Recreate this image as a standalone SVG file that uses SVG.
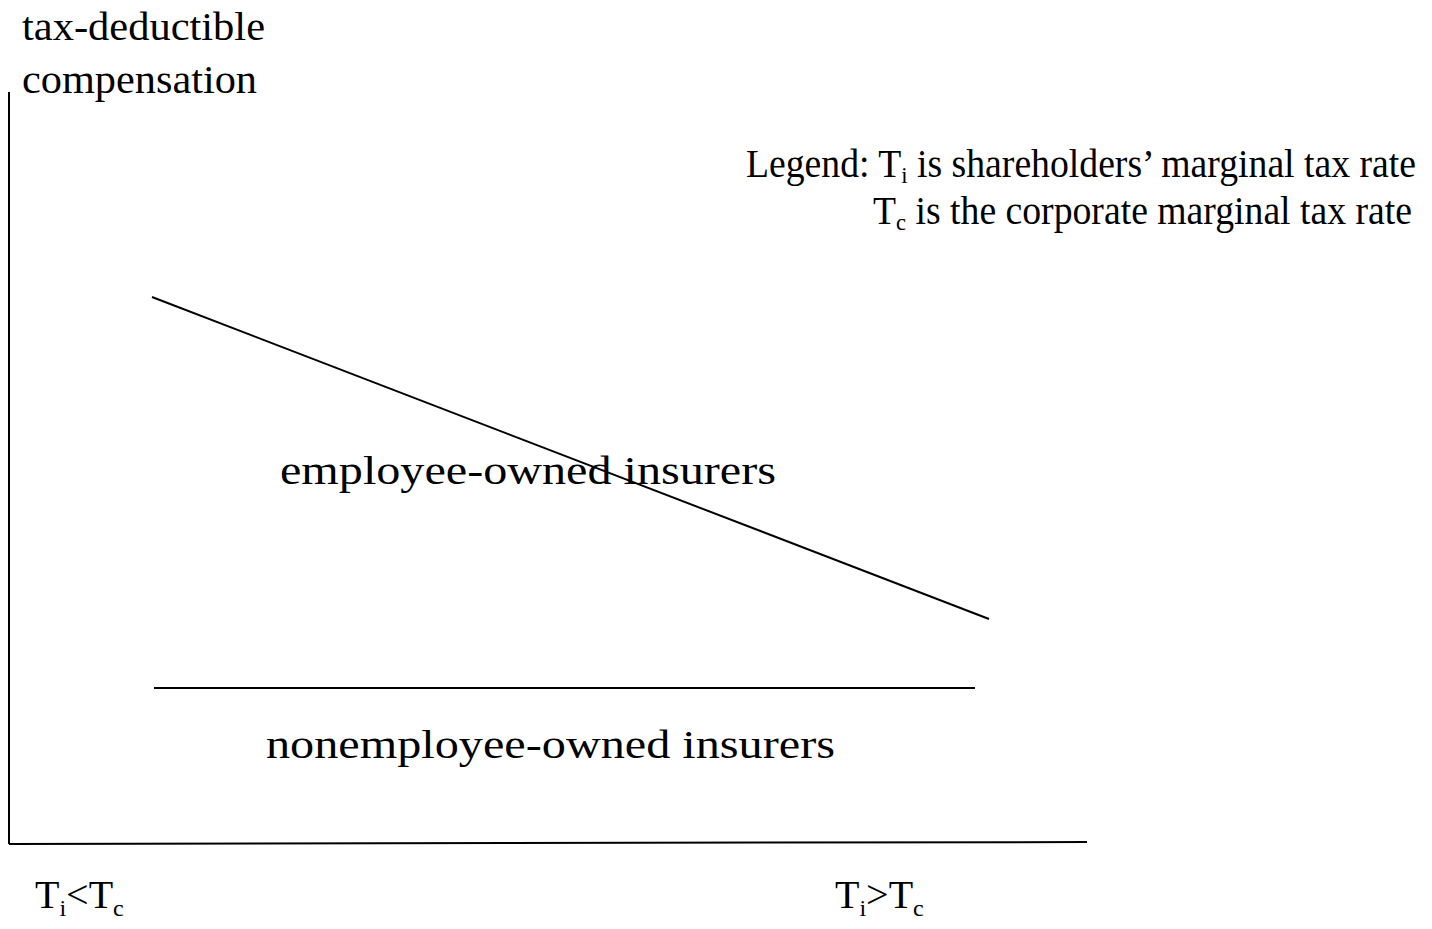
<svg xmlns="http://www.w3.org/2000/svg" width="1432" height="929" viewBox="0 0 1432 929">
<style>
text{font-family:"Liberation Serif","Times New Roman",serif;fill:#000;font-size:40px}
.sub{font-size:24px}
.ln{stroke:#000;stroke-width:2;fill:none}
</style>
<rect width="1432" height="929" fill="#fff"/>
<g id="axes">
<line class="ln" x1="9" y1="92" x2="9" y2="844" stroke-width="2.5"/>
<line class="ln" x1="9" y1="844" x2="1087" y2="842" stroke-width="2.5"/>
</g>
<g id="ylabel">
<text x="22" y="40" textLength="243" lengthAdjust="spacingAndGlyphs">tax-deductible</text>
<text x="22" y="93" textLength="235" lengthAdjust="spacingAndGlyphs">compensation</text>
</g>
<g id="legend">
<text x="746" y="177" textLength="670" lengthAdjust="spacingAndGlyphs">Legend: T<tspan class="sub" dy="6">i</tspan><tspan dy="-6"> is shareholders’ marginal tax rate</tspan></text>
<text x="873" y="224" textLength="539" lengthAdjust="spacingAndGlyphs">T<tspan class="sub" dy="6">c</tspan><tspan dy="-6"> is the corporate marginal tax rate</tspan></text>
</g>
<g id="connectors">
<line class="ln" x1="152" y1="297" x2="989" y2="619"/>
<line class="ln" x1="154" y1="688" x2="975" y2="688"/>
</g>
<g id="employee">
<text x="280" y="484" textLength="496" lengthAdjust="spacingAndGlyphs">employee-owned insurers</text>
</g>
<g id="nonemployee">
<text x="266" y="758" textLength="569" lengthAdjust="spacingAndGlyphs">nonemployee-owned insurers</text>
</g>
<g id="xlabels">
<text x="35" y="908">T<tspan class="sub" dy="8">i</tspan><tspan dy="-8">&lt;T</tspan><tspan class="sub" dy="8">c</tspan></text>
<text x="835" y="908">T<tspan class="sub" dy="8">i</tspan><tspan dy="-8">&gt;T</tspan><tspan class="sub" dy="8">c</tspan></text>
</g>
</svg>
